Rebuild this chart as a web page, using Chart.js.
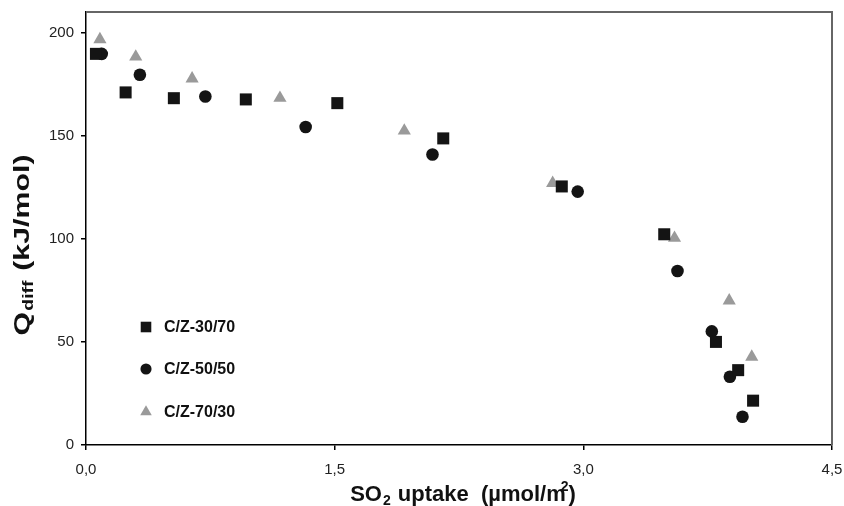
<!DOCTYPE html>
<html><head><meta charset="utf-8">
<script src="https://cdn.jsdelivr.net/npm/chart.js@4/dist/chart.umd.min.js"></script>
<style>html,body{margin:0;padding:0;background:#fff;}</style>
</head><body>
<canvas id="c" width="844" height="506"></canvas>
<script>
// ---- data ----
const seriesNames = ['C/Z-30/70', 'C/Z-50/50', 'C/Z-70/30'];
const x3070 = [0.06, 0.239, 0.53, 0.964, 1.516, 2.155, 2.87, 3.488, 3.80, 3.934, 4.024];
const y3070 = [189.7, 171, 168.2, 167.6, 165.8, 148.7, 125.4, 102.2, 50, 36.3, 21.5];
const x5050 = [0.095, 0.325, 0.72, 1.325, 2.09, 2.966, 3.568, 3.775, 3.884, 3.96];
const y5050 = [189.7, 179.6, 169, 154.2, 140.9, 122.9, 84.4, 55.1, 33.1, 13.7];
const x7030 = [0.084, 0.30, 0.64, 1.17, 1.92, 2.815, 3.55, 3.88, 4.016];
const y7030 = [196.7, 188.3, 177.7, 168.3, 152.4, 127, 100.4, 70, 42.7];
const xTicks = [0, 1.5, 3.0, 4.5];
const yTicks = [0, 50, 100, 150, 200];

const pts = (xs, ys) => xs.map((x, i) => ({x: x, y: ys[i]}));
const FONT = "'Liberation Sans', Arial, sans-serif";

const frameAndTitles = {
  id: 'frameAndTitles',
  afterDraw(chart) {
    const ctx = chart.ctx, a = chart.chartArea;
    ctx.save();
    // top / right frame
    ctx.strokeStyle = '#666';
    ctx.lineWidth = 2;
    ctx.beginPath();
    ctx.moveTo(a.left, a.top);
    ctx.lineTo(a.right, a.top);
    ctx.lineTo(a.right, a.bottom);
    ctx.stroke();

    // legend
    const lx = 146, ly = [327, 369, 412];
    chart.data.datasets.forEach((ds, i) => {
      ctx.fillStyle = ds.backgroundColor;
      ctx.strokeStyle = ds.backgroundColor;
      Chart.helpers.drawPoint(ctx, {pointStyle: ds.pointStyle, radius: ds.pointRadius * 0.88, borderWidth: 0, rotation: 0}, lx, ly[i]);
      ctx.fillStyle = '#111';
      ctx.font = 'bold 16px ' + FONT;
      ctx.textBaseline = 'middle';
      ctx.textAlign = 'left';
      ctx.fillText(ds.label, 164, ly[i] + 1);
    });

    // x title with sub/superscript
    ctx.fillStyle = '#111';
    ctx.textBaseline = 'alphabetic';
    ctx.textAlign = 'left';
    const big = 'bold 22px ' + FONT, small = 'bold 14px ' + FONT;
    const parts = [
      {t: 'SO', f: big, dy: 0, dx: 0},
      {t: '2', f: small, dy: 4, dx: 1},
      {t: ' uptake  (\u00b5mol/m', f: big, dy: 0, dx: 1},
      {t: '2', f: small, dy: -10, dx: -5},
      {t: ')', f: big, dy: 0, dx: 0}
    ];
    let w = 0;
    parts.forEach(p => { ctx.font = p.f; p.w = ctx.measureText(p.t).width; w += p.w + p.dx; });
    let x = 463 - w / 2;
    const base = 501;
    parts.forEach(p => { x += p.dx; ctx.font = p.f; ctx.fillText(p.t, x, base + p.dy); x += p.w; });

    // y title rotated (stretched along its length like the reference)
    ctx.save();
    ctx.translate(29, 245);
    ctx.rotate(-Math.PI / 2);
    ctx.scale(1.38, 1);
    const yparts = [
      {t: 'Q', f: big, dy: 0, dx: 0},
      {t: 'diff', f: small, dy: 4, dx: 1},
      {t: ' (kJ/mol)', f: big, dy: 0, dx: 1}
    ];
    w = 0;
    yparts.forEach(p => { ctx.font = p.f; p.w = ctx.measureText(p.t).width; w += p.w + p.dx; });
    x = -w / 2;
    yparts.forEach(p => { x += p.dx; ctx.font = p.f; ctx.fillText(p.t, x, p.dy); x += p.w; });
    ctx.restore();
    ctx.restore();
  }
};

new Chart(document.getElementById('c'), {
  type: 'scatter',
  data: {
    datasets: [
      {label: seriesNames[0], data: pts(x3070, y3070), pointStyle: 'rect', pointRadius: 8.5, backgroundColor: '#141414', borderWidth: 0},
      {label: seriesNames[1], data: pts(x5050, y5050), pointStyle: 'circle', pointRadius: 6.3, backgroundColor: '#141414', borderWidth: 0},
      {label: seriesNames[2], data: pts(x7030, y7030), pointStyle: 'triangle', pointRadius: 7.6, backgroundColor: '#9a9a9a', borderWidth: 0}
    ]
  },
  options: {
    responsive: false,
    animation: false,
    devicePixelRatio: 1,
    layout: {padding: {top: 12, right: 12, left: 0, bottom: 0}},
    plugins: {legend: {display: false}, tooltip: {enabled: false}},
    scales: {
      x: {
        type: 'linear', min: 0, max: 4.5,
        afterFit(s) { s.height = 61; s.paddingLeft = 0; s.paddingRight = 0; },
        afterBuildTicks(s) { s.ticks = xTicks.map(v => ({value: v})); },
        grid: {drawOnChartArea: false, drawTicks: true, tickLength: 5, color: '#000', lineWidth: 1.5},
        border: {color: '#000', width: 1.5},
        ticks: {font: {family: FONT, size: 15}, color: '#222', padding: 11, maxRotation: 0, autoSkip: false,
                callback: v => Number(v).toFixed(1).replace('.', ',')}
      },
      y: {
        type: 'linear', min: 0, max: 210,
        afterFit(s) { s.width = 86; s.paddingTop = 0; s.paddingBottom = 0; },
        afterBuildTicks(s) { s.ticks = yTicks.map(v => ({value: v})); },
        grid: {drawOnChartArea: false, drawTicks: true, tickLength: 5, color: '#000', lineWidth: 1.5},
        border: {color: '#000', width: 1.5},
        ticks: {font: {family: FONT, size: 15}, color: '#222', padding: 7, autoSkip: false,
                callback: v => String(v)}
      }
    }
  },
  plugins: [frameAndTitles]
});
</script>
</body></html>
